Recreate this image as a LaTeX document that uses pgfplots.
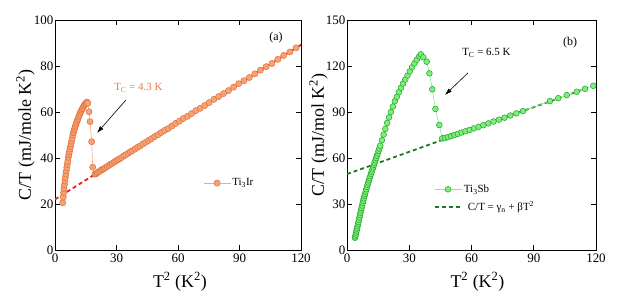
\documentclass[border=0pt]{standalone}
\usepackage{fontspec}
\setmainfont{Liberation Serif}
\usepackage{pgfplots}
\pgfplotsset{compat=1.18}
\usetikzlibrary{arrows.meta}

\definecolor{orfill}{HTML}{F5A275}
\definecolor{oredge}{HTML}{E2703A}
\definecolor{orline}{HTML}{F2A888}
\definecolor{orred}{HTML}{E52222}
\definecolor{orlabel}{HTML}{EE7A45}
\definecolor{grfill}{HTML}{7DEE7D}
\definecolor{gredge}{HTML}{23A323}
\definecolor{grline}{HTML}{8CE88C}
\definecolor{grdash}{HTML}{1F7A1F}

\pgfplotsset{
  panel/.style={
    scale only axis, height=230bp,
    xmin=0, xmax=120, xtick={0,30,60,90,120},
    ymin=0,
    tick align=inside, tick pos=both,
    major tick length=5bp,
    axis line style={line width=0.8bp},
    every tick/.style={black, line width=0.8bp},
    /pgf/number format/assume math mode=true,
    tick label style={font=\fontsize{13}{15}\selectfont},
    yticklabel style={inner sep=1.5bp},
    xticklabel style={inner sep=1.5bp, yshift=-2bp},
    label style={font=\fontsize{18}{21}\selectfont},
    legend cell align=left,
    legend image code/.code={\draw[mark repeat=2,mark phase=2,##1] plot coordinates {(0bp,0bp) (13.5bp,0bp) (27bp,0bp)};},
  }
}

\pgfplotstableread{
x y
3.80 20.5
4.00 23.0
4.20 25.0
4.41 26.8
4.62 28.4
4.84 30.0
5.06 31.5
5.29 33.0
5.52 34.4
5.76 35.8
6.00 37.2
6.25 38.5
6.50 40.3
6.76 41.5
7.02 42.7
7.29 43.9
7.56 45.0
7.84 46.1
8.12 47.3
8.41 48.5
8.70 50.0
9.00 51.0
9.30 52.0
9.61 52.9
9.92 53.8
10.24 54.7
10.56 55.5
10.89 56.3
11.22 57.1
11.56 57.8
11.90 58.6
12.25 59.4
12.60 60.1
12.96 60.8
13.32 61.4
13.69 62.0
14.06 62.6
14.44 63.1
14.82 63.6
15.21 64.0
15.60 64.3
16.00 63.8
16.60 60.1
17.10 55.8
17.90 47.1
18.40 36.0
19.50 33.0
20.1 33.2
20.7 33.6
21.3 34.0
21.9 34.3
22.6 34.8
23.3 35.1
24.0 35.4
24.7 35.9
25.5 36.3
26.3 36.8
27.1 37.3
27.9 37.6
28.8 38.2
29.7 38.7
30.6 39.2
31.5 39.7
32.5 40.2
33.5 40.9
34.5 41.4
35.6 42.0
36.7 42.7
37.8 43.2
39.0 43.9
40.2 44.6
41.5 45.2
42.8 46.1
44.2 46.8
45.6 47.6
47.1 48.4
48.6 49.3
50.2 50.1
51.8 51.1
53.5 52.0
55.2 52.8
57.0 53.9
58.8 55.0
60.7 56.0
62.6 57.2
64.6 58.1
66.6 59.3
68.7 60.6
70.8 61.6
73.0 62.8
75.2 64.1
77.5 65.5
79.8 66.7
82.2 68.0
84.6 69.3
87.1 70.8
89.6 72.3
92.2 73.6
94.8 75.0
97.5 76.6
100.2 78.2
103.0 79.7
105.8 81.1
108.7 82.9
111.6 84.6
114.6 86.1
117.6 87.9
}\tiirdata

\pgfplotstableread{
x y
3.80 8.0
4.00 8.9
4.20 10.1
4.41 11.4
4.62 12.7
4.84 14.0
5.06 15.4
5.29 16.8
5.52 18.2
5.76 19.8
6.00 21.3
6.25 22.8
6.50 24.3
6.76 25.9
7.02 27.4
7.29 29.0
7.56 30.6
7.84 32.2
8.12 33.7
8.41 35.2
8.70 36.6
9.00 38.1
9.30 39.6
9.61 41.1
9.92 42.6
10.24 44.0
10.56 45.4
10.89 46.8
11.22 48.2
11.56 49.7
11.90 51.1
12.25 52.6
12.60 54.0
12.96 55.5
13.32 57.0
13.69 58.5
14.06 60.0
14.44 61.5
14.82 63.0
15.21 64.6
15.60 66.2
16.00 68.0
16.81 71.6
17.64 75.3
18.49 79.0
19.36 82.8
20.25 86.5
21.16 90.0
22.09 93.5
23.04 97.0
24.01 99.9
25.00 102.9
26.01 105.8
27.04 108.6
28.09 111.2
29.16 113.8
30.25 116.5
31.36 119.2
32.49 121.7
33.64 124.1
34.81 126.3
35.60 127.6
36.80 125.7
38.40 122.8
39.70 115.2
41.10 104.8
42.60 92.0
44.50 81.5
45.90 72.8
47.2 73.0
48.6 73.6
50.1 74.3
51.7 75.0
53.4 75.8
55.2 76.6
57.1 77.4
59.1 78.3
61.2 79.3
63.4 80.3
65.7 81.4
68.1 82.6
70.6 83.8
73.2 85.0
75.9 86.3
78.7 87.7
81.6 89.1
84.8 90.6
97.8 97.1
101.8 99.0
105.9 101.0
110.7 103.2
114.7 105.1
118.7 107.1
}\tisbdata

\begin{document}
\begin{tikzpicture}
\useasboundingbox (0,0) rectangle (629bp,298bp);

% ---------------- panel (a)
\begin{axis}[panel,
  at={(55bp,48bp)}, anchor=south west,
  width=246bp,
  ymax=100, ytick={0,20,40,60,80,100},
  xlabel={T\textsuperscript{2} (K\textsuperscript{2})},
  ylabel={C/T (mJ/mole K\textsuperscript{2})},
  xlabel style={at={(axis description cs:0.508,-0.161)}, anchor=base},
  ylabel style={at={(axis description cs:-0.12,0.5)}, anchor=center},
  legend style={draw=none, fill=none, at={(0.602,0.291)}, anchor=west,
    font=\fontsize{11}{13}\selectfont, inner sep=0pt, nodes={inner sep=1.5bp}},
]
\addplot[color=orline, line width=0.6bp, mark=*, mark size=3.1bp,
  mark options={fill=orfill, draw=oredge, line width=0.5bp}]
  table[x=x, y=y] {\tiirdata};
\addlegendentry{Ti\textsubscript{3}Ir}
\addplot[forget plot, color=orred, line width=1.8bp, dash pattern=on 4bp off 3bp]
  coordinates {(0,22.0) (120,89.2)};
\node[text=orlabel, font=\fontsize{11}{13}\selectfont] at (axis cs:40.7,70.4) {T\textsubscript{C} = 4.3 K};
\draw[line width=0.6bp, -{Latex[length=7bp,width=4.5bp]}] (axis cs:34.6,65.2) -- (axis cs:20.5,50.9);
\node[font=\fontsize{12}{14}\selectfont] at (axis cs:107.8,92.2) {(a)};
\end{axis}

% ---------------- panel (b)
\begin{axis}[panel,
  at={(347bp,48bp)}, anchor=south west,
  width=249bp,
  ymax=150, ytick={0,30,60,90,120,150},
  xlabel={T\textsuperscript{2} (K\textsuperscript{2})},
  ylabel={C/T (mJ/mol K\textsuperscript{2})},
  xlabel style={at={(axis description cs:0.524,-0.161)}, anchor=base},
  ylabel style={at={(axis description cs:-0.114,0.5)}, anchor=center},
  legend style={draw=none, fill=none, at={(0.347,0.291)}, anchor=north west,
    font=\fontsize{11}{13}\selectfont, inner sep=0pt, nodes={inner sep=1.5bp}, row sep=5bp},
]
\addplot[forget plot, color=grdash, line width=1.8bp, dash pattern=on 4bp off 3bp]
  coordinates {(0,49.5) (120,107.7)};
\addplot[color=grline, line width=0.6bp, mark=*, mark size=2.9bp,
  mark options={fill=grfill, draw=gredge, line width=0.5bp}]
  table[x=x, y=y] {\tisbdata};
\addlegendentry{Ti\textsubscript{3}Sb}
\addlegendimage{color=grdash, line width=1.8bp, dash pattern=on 4bp off 3bp}
\addlegendentry{\hspace{4bp}C/T = γ\textsubscript{n} + βT\textsuperscript{2}}
\node[font=\fontsize{11}{13}\selectfont] at (axis cs:67.2,128.5) {T\textsubscript{C} = 6.5 K};
\draw[line width=0.6bp, -{Latex[length=7bp,width=4.5bp]}] (axis cs:58.3,115.5) -- (axis cs:47.2,101.1);
\node[font=\fontsize{12}{14}\selectfont] at (axis cs:107.5,135) {(b)};
\end{axis}
\end{tikzpicture}
\end{document}
